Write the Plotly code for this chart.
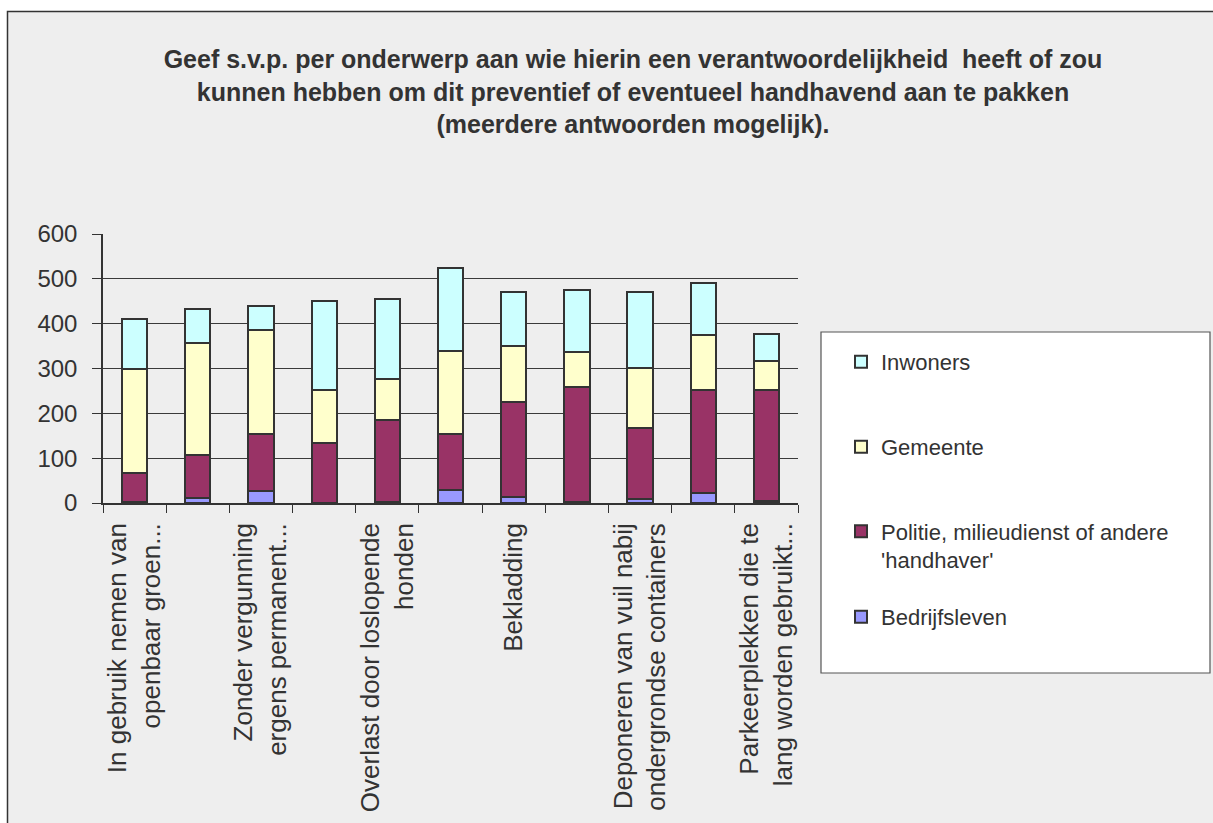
import plotly.graph_objects as go

# ---------------- data ----------------
categories = [
    "In gebruik nemen van openbaar groen...",
    "Onderwerp 2",
    "Zonder vergunning ergens permanent...",
    "Onderwerp 4",
    "Overlast door loslopende honden",
    "Onderwerp 6",
    "Bekladding",
    "Onderwerp 8",
    "Deponeren van vuil nabij ondergrondse containers",
    "Onderwerp 10",
    "Parkeerplekken die te lang worden gebruikt...",
]
tick_labels = [
    "In gebruik nemen van<br>openbaar groen...",
    "",
    "Zonder vergunning<br>ergens permanent...",
    "",
    "Overlast door loslopende<br>honden",
    "",
    "Bekladding",
    "",
    "Deponeren van vuil nabij<br>ondergrondse containers",
    "",
    "Parkeerplekken die te<br>lang worden gebruikt...",
]
bedrijfsleven = [2, 12, 27, 0, 2, 29, 14, 3, 8, 23, 5]
politie = [64, 94, 126, 133, 183, 124, 211, 256, 159, 228, 246]
gemeente = [234, 250, 233, 119, 91, 186, 125, 77, 135, 123, 66]
inwoners = [110, 77, 53, 198, 180, 186, 121, 140, 169, 117, 59]

series_names = ["Bedrijfsleven", "Politie, milieudienst of andere<br>'handhaver'", "Gemeente", "Inwoners"]
series_values = [bedrijfsleven, politie, gemeente, inwoners]
series_colors = ["#9999FF", "#993366", "#FFFFCC", "#CCFFFF"]
legend_ids = ["legend4", "legend3", "legend2", "legend"]

title_text = ("Geef s.v.p. per onderwerp aan wie hierin een verantwoordelijkheid  heeft of zou<br>"
              "kunnen hebben om dit preventief of eventueel handhavend aan te pakken<br>"
              "(meerdere antwoorden mogelijk).")

# ---------------- geometry helpers ----------------
W, H = 1213, 823
L, R, T, B = 103, 798, 234, 503


def px(x):
    return (x - L) / (R - L)


def py(y):
    return (B - y) / (B - T)


FONT = "Liberation Sans, Arial, sans-serif"
TXT = "#333333"

fig = go.Figure()
for name, vals, col, lg in zip(series_names, series_values, series_colors, legend_ids):
    fig.add_trace(go.Bar(
        x=categories, y=vals, name=name, legend=lg, showlegend=True,
        marker=dict(color=col, line=dict(color="#333333", width=2)),
    ))

legend_common = dict(
    font=dict(family=FONT, size=22, color=TXT),
    bgcolor="rgba(0,0,0,0)", borderwidth=0,
    xanchor="left", yanchor="middle", valign="top",
)
lx = px(841)
fig.update_layout(
    width=W, height=H, showlegend=True,
    barmode="stack", bargap=0.6,
    paper_bgcolor="white", plot_bgcolor="rgba(0,0,0,0)",
    margin=dict(l=L, r=W - R, t=T, b=H - B, autoexpand=False),
    font=dict(family=FONT, color=TXT),
    title=dict(
        text=title_text, x=633 / W, xanchor="center", xref="container",
        y=1 - 68 / H, yanchor="top", yref="container",
        font=dict(family=FONT, size=25, color=TXT, weight="bold"),
    ),
    legend=dict(legend_common, x=lx, y=py(362), visible=True),
    legend2=dict(legend_common, x=lx, y=py(447), visible=True),
    legend3=dict(legend_common, x=lx, y=py(546), visible=True),
    legend4=dict(legend_common, x=lx, y=py(617), visible=True),
    xaxis=dict(
        type="category", tickmode="array", tickvals=categories, ticktext=tick_labels,
        tickangle=-90, tickson="boundaries", ticks="outside", ticklen=8,
        tickcolor="#333333", tickwidth=1,
        showline=True, linecolor="#333333", linewidth=1.5,
        showgrid=False, automargin=False, ticklabelstandoff=8,
        tickfont=dict(family=FONT, size=26, color=TXT),
    ),
    yaxis=dict(
        range=[0, 600], tickmode="linear", tick0=0, dtick=100,
        ticks="outside", ticklen=9, tickcolor="#333333", tickwidth=1,
        showline=True, linecolor="#333333", linewidth=1.5,
        showgrid=True, gridcolor="#3a3a3a", gridwidth=1,
        zeroline=False, automargin=False, ticklabelstandoff=10,
        tickfont=dict(family=FONT, size=24, color=TXT),
    ),
    shapes=[
        # chart frame
        dict(type="rect", xref="paper", yref="paper", layer="below",
             x0=px(7.5), y0=py(H + 50), x1=px(W + 50), y1=py(11.5),
             fillcolor="#EEEEEE", line=dict(color="#333333", width=1.5)),
        # legend box
        dict(type="rect", xref="paper", yref="paper", layer="below",
             x0=px(821), y0=py(673), x1=px(1210), y1=py(332),
             fillcolor="white", line=dict(color="#555555", width=1.2)),
    ],
)

fig.write_html("out.html", config={"displayModeBar": False})

# remove the default page margin so the figure sits at the window origin
with open("out.html", "r", encoding="utf-8") as f:
    html = f.read()
html = html.replace("<head>", "<head><style>html,body{margin:0;padding:0;overflow:hidden;}</style>", 1)
with open("out.html", "w", encoding="utf-8") as f:
    f.write(html)
